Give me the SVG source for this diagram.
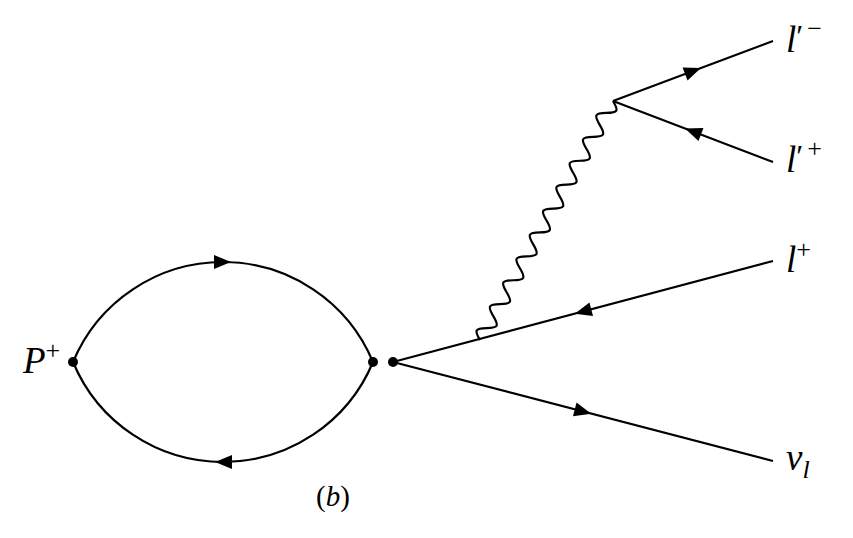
<svg xmlns="http://www.w3.org/2000/svg" xmlns:xlink="http://www.w3.org/1999/xlink" width="853" height="538" viewBox="0 0 853 538">
<style>
.ln{fill:none;stroke:#000;stroke-width:2.2}
.dot{fill:#000}
.t{font-family:"Liberation Serif","Times New Roman",serif;fill:#000}
.it{font-style:italic}
</style>
<defs>
<path id="arr" d="M8.5,0 L-8.5,-7 L-8.5,7 Z" fill="#000"/>
</defs>
<rect width="853" height="538" fill="#fff"/>
<g id="connectors">
<path class="ln" d="M73,362 A162.5,162.5 0 0 1 373,362"/>
<path class="ln" d="M73,362 A162.5,162.5 0 0 0 373,362"/>
<path class="ln" d="M393,362 L773,261"/>
<path class="ln" d="M393,362 L773,461"/>
<path class="ln" d="M613,101 L773,41"/>
<path class="ln" d="M613,101 L773,162"/>
<g transform="translate(480,340) rotate(-60.9)">
<path class="ln" d="M0,0
c2.231,-3.844 4.363,-7.5 6.838,-7.5 c2.475,0 4.606,3.656 6.838,7.5 c2.231,3.844 4.363,7.5 6.838,7.5 c2.475,0 4.606,-3.656 6.838,-7.5
c2.231,-3.844 4.363,-7.5 6.838,-7.5 c2.475,0 4.606,3.656 6.838,7.5 c2.231,3.844 4.363,7.5 6.838,7.5 c2.475,0 4.606,-3.656 6.838,-7.5
c2.231,-3.844 4.363,-7.5 6.838,-7.5 c2.475,0 4.606,3.656 6.838,7.5 c2.231,3.844 4.363,7.5 6.838,7.5 c2.475,0 4.606,-3.656 6.838,-7.5
c2.231,-3.844 4.363,-7.5 6.838,-7.5 c2.475,0 4.606,3.656 6.838,7.5 c2.231,3.844 4.363,7.5 6.838,7.5 c2.475,0 4.606,-3.656 6.838,-7.5
c2.231,-3.844 4.363,-7.5 6.838,-7.5 c2.475,0 4.606,3.656 6.838,7.5 c2.231,3.844 4.363,7.5 6.838,7.5 c2.475,0 4.606,-3.656 6.838,-7.5
c2.231,-3.844 4.363,-7.5 6.838,-7.5 c2.475,0 4.606,3.656 6.838,7.5 c2.231,3.844 4.363,7.5 6.838,7.5 c2.475,0 4.606,-3.656 6.838,-7.5
c2.231,-3.844 4.363,-7.5 6.838,-7.5 c2.475,0 4.606,3.656 6.838,7.5 c2.231,3.844 4.363,7.5 6.838,7.5 c2.475,0 4.606,-3.656 6.838,-7.5
c2.231,-3.844 4.363,-7.5 6.838,-7.5 c2.475,0 4.606,3.656 6.838,7.5 c2.231,3.844 4.363,7.5 6.838,7.5 c2.475,0 4.606,-3.656 6.838,-7.5
c2.231,-3.844 4.363,-7.5 6.838,-7.5 c2.475,0 4.606,3.656 6.838,7.5 c2.231,3.844 4.363,7.5 6.838,7.5 c2.475,0 4.606,-3.656 6.838,-7.5
c2.231,-3.844 4.363,-7.5 6.838,-7.5 c2.475,0 4.606,3.656 6.838,7.5 c2.231,3.844 4.363,7.5 6.838,7.5 c2.475,0 4.606,-3.656 6.838,-7.5"/>
</g>
<use xlink:href="#arr" transform="translate(222.5,262)"/>
<use xlink:href="#arr" transform="translate(223.5,462) rotate(180)"/>
<use xlink:href="#arr" transform="translate(583,311.5) rotate(165.1)"/>
<use xlink:href="#arr" transform="translate(583,411.5) rotate(14.6)"/>
<use xlink:href="#arr" transform="translate(693,71) rotate(-20.6)"/>
<use xlink:href="#arr" transform="translate(693,131.5) rotate(200.9)"/>
</g>
<g id="P">
<circle class="dot" cx="73" cy="362" r="5"/>
<text class="t" x="23" y="373" font-size="37"><tspan class="it">P</tspan><tspan font-size="26" dy="-14">+</tspan></text>
</g>
<g id="loopR"><circle class="dot" cx="373" cy="362" r="5"/></g>
<g id="vtx"><circle class="dot" cx="393" cy="362" r="5"/></g>
<g id="lpm">
<text class="t" x="786" y="52" font-size="37"><tspan class="it">l</tspan><tspan font-size="32" dy="-5">′</tspan><tspan font-size="26" dx="4" dy="-10">−</tspan></text>
</g>
<g id="lpp">
<text class="t" x="786" y="172" font-size="37"><tspan class="it">l</tspan><tspan font-size="32" dy="-5">′</tspan><tspan font-size="26" dx="4" dy="-10">+</tspan></text>
</g>
<g id="lp">
<text class="t" x="786" y="272" font-size="37"><tspan class="it">l</tspan><tspan font-size="26" dy="-14">+</tspan></text>
</g>
<g id="nu">
<text class="t" x="786" y="470" font-size="37"><tspan class="it">ν</tspan><tspan class="it" font-size="26" dy="8">l</tspan></text>
</g>
<text class="t" x="316" y="506" font-size="29">(<tspan class="it">b</tspan>)</text>
</svg>
